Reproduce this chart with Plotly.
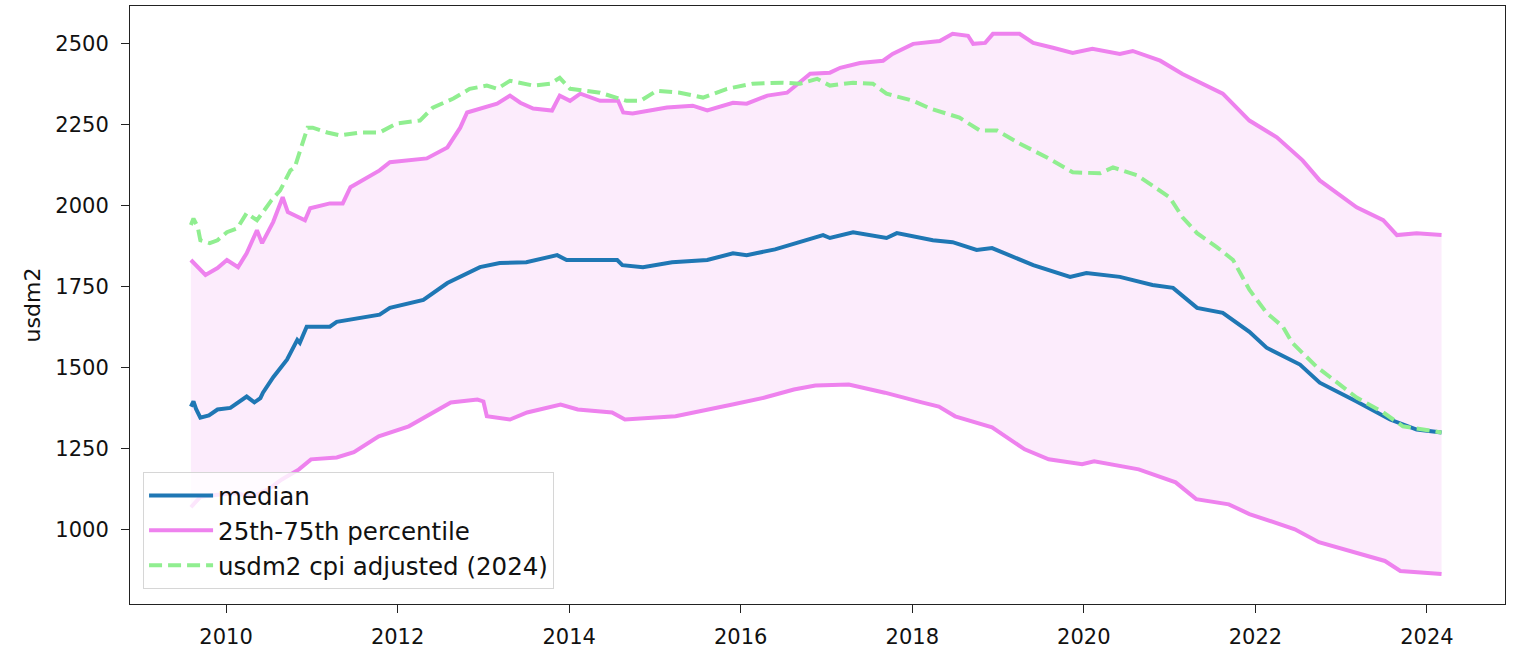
import plotly.graph_objects as go

# ---- data (decimal years) ----
median_x = [2009.59, 2009.62, 2009.65, 2009.70, 2009.80, 2009.90, 2010.05, 2010.24, 2010.33, 2010.40,
            2010.43, 2010.55, 2010.71, 2010.78, 2010.83, 2010.86, 2010.94, 2011.21, 2011.29, 2011.79,
            2011.91, 2012.30, 2012.58, 2012.96, 2013.19, 2013.50, 2013.86, 2013.97, 2014.30, 2014.56,
            2014.62, 2014.86, 2015.20, 2015.61, 2015.91, 2016.07, 2016.40, 2016.69, 2016.96, 2017.04,
            2017.31, 2017.70, 2017.82, 2018.24, 2018.47, 2018.75, 2018.93, 2019.41, 2019.84, 2020.03,
            2020.42, 2020.80, 2021.04, 2021.32, 2021.62, 2021.93, 2022.13, 2022.52, 2022.75, 2023.18,
            2023.57, 2023.88, 2024.17]
median_y = [1379, 1395, 1372, 1345, 1352, 1370, 1375, 1410, 1392, 1405,
            1422, 1470, 1524, 1560, 1585, 1576, 1626, 1626, 1641, 1663,
            1684, 1709, 1761, 1810, 1823, 1825, 1847, 1832, 1832, 1832,
            1816, 1810, 1825, 1832, 1853, 1847, 1865, 1887, 1909, 1900,
            1918, 1900, 1915, 1893, 1887, 1863, 1869, 1816, 1780, 1792,
            1780, 1755, 1746, 1684, 1669, 1610, 1561, 1509, 1453, 1395,
            1339, 1308, 1299]

upper_x = [2009.59, 2009.65, 2009.76, 2009.90, 2010.01, 2010.14, 2010.24, 2010.36, 2010.42, 2010.55,
           2010.63, 2010.66, 2010.72, 2010.92, 2010.98, 2011.21, 2011.36, 2011.45, 2011.79, 2011.91,
           2012.34, 2012.58, 2012.73, 2012.81, 2013.16, 2013.31, 2013.43, 2013.58, 2013.80, 2013.89,
           2014.01, 2014.13, 2014.36, 2014.57, 2014.63, 2014.74, 2015.14, 2015.44, 2015.61, 2015.91,
           2016.07, 2016.31, 2016.54, 2016.81, 2017.04, 2017.16, 2017.39, 2017.66, 2017.77, 2018.01,
           2018.32, 2018.47, 2018.65, 2018.71, 2018.85, 2018.94, 2019.25, 2019.41, 2019.64, 2019.87,
           2020.10, 2020.42, 2020.57, 2020.89, 2021.15, 2021.62, 2021.93, 2022.25, 2022.55, 2022.75,
           2023.18, 2023.49, 2023.65, 2023.88, 2024.17]
upper_y = [1832, 1815, 1786, 1807, 1832, 1810, 1853, 1924, 1884, 1950,
           2007, 2026, 1980, 1955, 1992, 2007, 2007, 2057, 2109, 2134,
           2146, 2180, 2241, 2288, 2315, 2340, 2318, 2300, 2294, 2340,
           2324, 2346, 2324, 2324, 2288, 2285, 2303, 2309, 2294, 2318,
           2315, 2340, 2349, 2408, 2411, 2426, 2441, 2448, 2469, 2500,
           2509, 2531, 2525, 2500, 2503, 2531, 2531, 2503, 2488, 2472,
           2485, 2469, 2478, 2448, 2407, 2346, 2263, 2211, 2140, 2078,
           1995, 1955, 1909, 1915, 1909]

lower_x = [2009.59, 2009.70, 2009.85, 2010.10, 2010.30, 2010.50, 2010.65, 2010.85, 2010.99, 2011.29,
           2011.49, 2011.78, 2012.13, 2012.42, 2012.62, 2012.93, 2013.00, 2013.04, 2013.31, 2013.51,
           2013.90, 2014.10, 2014.50, 2014.65, 2015.24, 2015.89, 2016.28, 2016.62, 2016.87, 2017.26,
           2017.68, 2018.11, 2018.31, 2018.50, 2018.93, 2019.31, 2019.59, 2019.98, 2020.12, 2020.64,
           2021.07, 2021.31, 2021.69, 2021.93, 2022.46, 2022.74, 2023.12, 2023.51, 2023.69, 2024.17]
lower_y = [1068, 1100, 1105, 1112, 1100, 1125, 1154, 1185, 1216, 1222,
           1238, 1287, 1318, 1361, 1392, 1401, 1395, 1349, 1339, 1361,
           1385, 1370, 1361, 1339, 1349, 1385, 1407, 1432, 1444, 1447,
           1422, 1392, 1379, 1349, 1315, 1247, 1216, 1201, 1210, 1185,
           1145, 1093, 1077, 1047, 1000, 960, 930, 902, 871, 862]

cpi_x = [2009.59, 2009.62, 2009.67, 2009.70, 2009.81, 2009.90, 2010.01, 2010.13, 2010.24, 2010.36,
         2010.43, 2010.53, 2010.63, 2010.75, 2010.80, 2010.86, 2010.95, 2011.01, 2011.18, 2011.33,
         2011.56, 2011.79, 2011.99, 2012.26, 2012.41, 2012.65, 2012.84, 2013.04, 2013.16, 2013.31,
         2013.58, 2013.78, 2013.89, 2014.01, 2014.36, 2014.67, 2014.83, 2015.02, 2015.29, 2015.56,
         2015.84, 2016.14, 2016.49, 2016.69, 2016.89, 2017.04, 2017.31, 2017.54, 2017.70, 2018.01,
         2018.21, 2018.55, 2018.79, 2018.99, 2019.25, 2019.57, 2019.87, 2020.19, 2020.34, 2020.62,
         2020.89, 2021.00, 2021.15, 2021.32, 2021.55, 2021.74, 2021.93, 2022.13, 2022.32, 2022.43,
         2022.71, 2022.95, 2023.18, 2023.49, 2023.72, 2024.17]
cpi_y = [1940, 1960, 1934, 1893, 1884, 1893, 1918, 1930, 1977, 1955,
         1980, 2017, 2047, 2109, 2118, 2171, 2241, 2241, 2226, 2217,
         2226, 2226, 2254, 2263, 2303, 2331, 2361, 2371, 2361, 2386,
         2371, 2377, 2395, 2361, 2349, 2324, 2324, 2355, 2349, 2334,
         2361, 2377, 2380, 2377, 2392, 2371, 2380, 2377, 2346, 2324,
         2300, 2272, 2232, 2232, 2192, 2149, 2103, 2100, 2118, 2094,
         2047, 2026, 1964, 1915, 1872, 1832, 1740, 1669, 1626, 1576,
         1503, 1453, 1407, 1361, 1318, 1299]

x_ticks = [2010, 2012, 2014, 2016, 2018, 2020, 2022, 2024]
y_ticks = [1000, 1250, 1500, 1750, 2000, 2250, 2500]

MEDIAN_C = "#1f77b4"
VIOLET = "#EE82EE"
GREEN = "#90EE90"
FILL = "rgba(238,130,238,0.15)"
LW = 4

fig = go.Figure()

# band between 25th and 75th percentile
fig.add_trace(go.Scatter(
    x=upper_x + lower_x[::-1], y=upper_y + lower_y[::-1],
    fill="toself", fillcolor=FILL, line=dict(width=0),
    mode="lines", showlegend=False, hoverinfo="skip"))

fig.add_trace(go.Scatter(x=median_x, y=median_y, mode="lines", name="median",
                         line=dict(color=MEDIAN_C, width=LW)))
fig.add_trace(go.Scatter(x=upper_x, y=upper_y, mode="lines", name="25th-75th percentile",
                         line=dict(color=VIOLET, width=LW), legendgroup="pct"))
fig.add_trace(go.Scatter(x=lower_x, y=lower_y, mode="lines", name="25th-75th percentile",
                         line=dict(color=VIOLET, width=LW), legendgroup="pct", showlegend=False))
fig.add_trace(go.Scatter(x=cpi_x, y=cpi_y, mode="lines", name="usdm2 cpi adjusted (2024)",
                         line=dict(color=GREEN, width=LW, dash="13px,6px")))

font = "DejaVu Sans"
fig.update_layout(
    width=1515, height=654,
    margin=dict(l=130, r=10, t=5, b=49),
    paper_bgcolor="white", plot_bgcolor="white",
    font=dict(family=font, size=21, color="#111111"),
    showlegend=True,
    legend=dict(x=0.0095, y=0.025, xanchor="left", yanchor="bottom",
                bgcolor="rgba(255,255,255,0.8)", bordercolor="#d6d6d6", borderwidth=1,
                font=dict(family=font, size=24.5, color="#111111"),
                itemwidth=64, tracegroupgap=0),
    xaxis=dict(range=[2008.88, 2024.91], tickvals=x_ticks, ticktext=[str(v) for v in x_ticks],
               showgrid=False, zeroline=False, showline=True, mirror=True,
               linecolor="#222222", linewidth=1, ticks="outside", ticklen=8,
               tickcolor="#222222", ticklabelstandoff=6),
    yaxis=dict(range=[769, 2617], tickvals=y_ticks, ticktext=[str(v) for v in y_ticks],
               showgrid=False, zeroline=False, showline=True, mirror=True,
               linecolor="#222222", linewidth=1, ticks="outside", ticklen=8,
               tickcolor="#222222", ticklabelstandoff=8,
               title=dict(text="usdm2", font=dict(family=font, size=22, color="#111111"), standoff=8)),
)

fig.write_html("out.html", config={"displayModeBar": False},
               post_script="document.body.style.margin='0';document.body.style.overflow='hidden';")
